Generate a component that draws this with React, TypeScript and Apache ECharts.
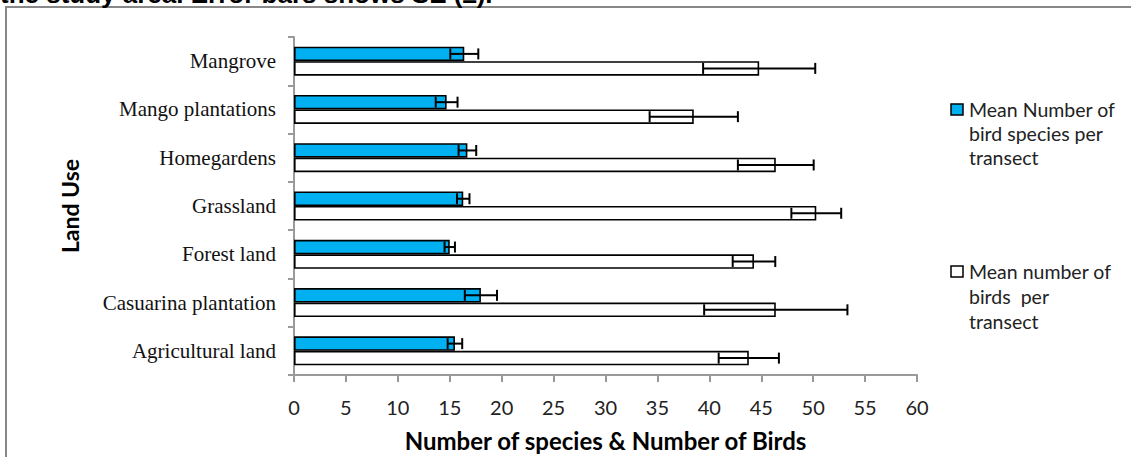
import React, { useEffect, useRef } from "react";
import * as echarts from "echarts";

const categories = [
  "Agricultural land",
  "Casuarina plantation",
  "Forest land",
  "Grassland",
  "Homegardens",
  "Mango plantations",
  "Mangrove",
];
const speciesMean = [15.5, 18.0, 15.0, 16.3, 16.7, 14.7, 16.4];
const speciesSE = [0.7, 1.55, 0.5, 0.6, 0.85, 1.05, 1.35];
const birdsMean = [43.8, 46.4, 44.3, 50.3, 46.4, 38.5, 44.8];
const birdsSE = [2.9, 6.9, 2.05, 2.4, 3.65, 4.25, 5.4];
const xTicks = { min: 0, max: 60, interval: 5 };
const seriesNames = [
  "Mean Number of\nbird species per\ntransect",
  "Mean number of\nbirds  per\ntransect",
];
const yAxisTitle = "Land Use";
const xAxisTitle = "Number of species & Number of Birds";
const captionText = "the study area. Error bars shows SE (±).";

const BLUE = "#00B0F0";
const SANS = "Lato, 'Open Sans', sans-serif";
const BAR_W = 14.5;

function errorRenderer(offset: number) {
  return (params: any, api: any) => {
    const cat = api.value(0);
    const lo = api.coord([api.value(1), cat]);
    const hi = api.coord([api.value(2), cat]);
    const y = lo[1] + offset;
    const h = 5.5;
    const st = { stroke: "#000", lineWidth: 2 };
    return {
      type: "group",
      children: [
        { type: "line", shape: { x1: lo[0], y1: y, x2: hi[0], y2: y }, style: st },
        { type: "line", shape: { x1: lo[0], y1: y - h, x2: lo[0], y2: y + h }, style: st },
        { type: "line", shape: { x1: hi[0], y1: y - h, x2: hi[0], y2: y + h }, style: st },
      ],
    };
  };
}

export default function App() {
  const ref = useRef<HTMLDivElement>(null);
  useEffect(() => {
    if (!ref.current) return;
    const chart = echarts.init(ref.current, null, { renderer: "svg" });
    const speciesErr = categories.map((_, i) => [i, speciesMean[i] - speciesSE[i], speciesMean[i] + speciesSE[i]]);
    const birdsErr = categories.map((_, i) => [i, birdsMean[i] - birdsSE[i], birdsMean[i] + birdsSE[i]]);
    chart.setOption({
      animation: false,
      backgroundColor: "#fff",
      grid: { left: 294, right: 214, top: 37, bottom: 79, containLabel: false },
      xAxis: {
        type: "value",
        min: xTicks.min,
        max: xTicks.max,
        interval: xTicks.interval,
        axisLine: { show: true, lineStyle: { color: "#9a9a9a", width: 2 } },
        axisTick: { show: true, length: 7, lineStyle: { color: "#9a9a9a", width: 2 } },
        splitLine: { show: false },
        axisLabel: { color: "#222", fontFamily: SANS, fontSize: 20, margin: 22 },
        name: xAxisTitle,
        nameLocation: "middle",
        nameGap: 53,
        nameTextStyle: { color: "#000", fontFamily: SANS, fontSize: 24, fontWeight: "bold" },
      },
      yAxis: {
        type: "category",
        data: categories,
        axisLine: { show: true, lineStyle: { color: "#9a9a9a", width: 2 } },
        axisTick: { show: true, length: 6, lineStyle: { color: "#9a9a9a", width: 2 } },
        axisLabel: {
          color: "#111",
          fontFamily: "'Liberation Serif', 'Times New Roman', serif",
          fontSize: 21,
          margin: 18,
        },
        name: yAxisTitle,
        nameLocation: "middle",
        nameRotate: 90,
        nameGap: 213,
        nameTextStyle: { color: "#000", fontFamily: SANS, fontSize: 23, fontWeight: "bold" },
      },
      series: [
        {
          name: seriesNames[0],
          type: "bar",
          data: speciesMean,
          barWidth: BAR_W,
          barGap: "0%",
          itemStyle: { color: BLUE, borderColor: "#000", borderWidth: 1.6 },
        },
        {
          name: seriesNames[1],
          type: "bar",
          data: birdsMean,
          barWidth: BAR_W,
          barGap: "0%",
          itemStyle: { color: "#fff", borderColor: "#000", borderWidth: 1.6 },
        },
        {
          type: "custom",
          z: 5,
          data: speciesErr,
          encode: { x: [1, 2], y: 0 },
          renderItem: errorRenderer(-BAR_W / 2),
        },
        {
          type: "custom",
          z: 5,
          data: birdsErr,
          encode: { x: [1, 2], y: 0 },
          renderItem: errorRenderer(BAR_W / 2),
        },
      ],
      graphic: [
        {
          type: "rect",
          shape: { x: 6, y: 7, width: 1140, height: 470 },
          style: { fill: "none", stroke: "#888", lineWidth: 2 },
          silent: true,
        },
        {
          type: "text",
          x: 0,
          y: 7,
          style: {
            text: captionText,
            fontFamily: "'Liberation Sans', Arial, sans-serif",
            fontWeight: "bold",
            fontSize: 26,
            fill: "#000",
            textVerticalAlign: "bottom",
          },
        },
        {
          type: "rect",
          shape: { x: 951, y: 104, width: 12, height: 11 },
          style: { fill: BLUE, stroke: "#000", lineWidth: 1.5 },
        },
        {
          type: "text",
          x: 969,
          y: 97,
          style: {
            text: seriesNames[0],
            fontFamily: SANS,
            fontSize: 19.5,
            lineHeight: 24,
            fill: "#222",
          },
        },
        {
          type: "rect",
          shape: { x: 951, y: 266, width: 12, height: 11 },
          style: { fill: "#fff", stroke: "#000", lineWidth: 1.5 },
        },
        {
          type: "text",
          x: 969,
          y: 259,
          style: {
            text: seriesNames[1],
            fontFamily: SANS,
            fontSize: 19.5,
            lineHeight: 25,
            fill: "#222",
          },
        },
      ],
    });
    return () => chart.dispose();
  }, []);
  return (
    <div
      ref={ref}
      style={{ position: "fixed", left: 0, top: 0, width: 1131, height: 457, background: "#fff" }}
    />
  );
}
